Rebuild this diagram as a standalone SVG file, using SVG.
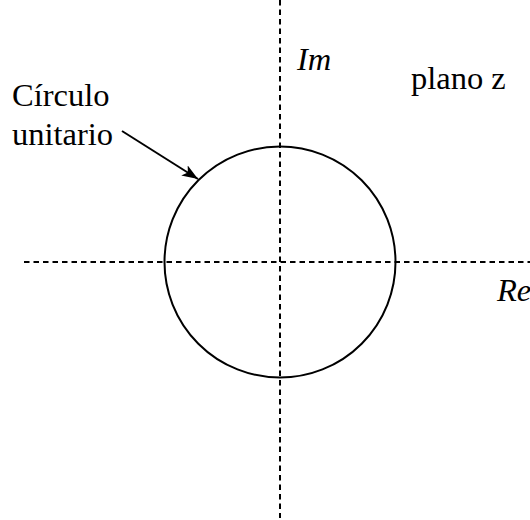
<svg xmlns="http://www.w3.org/2000/svg" width="530" height="520" viewBox="0 0 530 520">
<style>
.axis{stroke:#000;stroke-width:2;stroke-dasharray:5.5,4;fill:none}
text{font-family:'Liberation Serif','Times New Roman',serif;font-size:32.5px;fill:#000}
.i{font-style:italic}
</style>
<defs>
<marker id="ah2" viewBox="0 0 16 12" refX="16" refY="6" markerWidth="16" markerHeight="12" markerUnits="userSpaceOnUse" orient="auto">
<path d="M0,0 L16,6 L0,12 L4,6 Z" fill="#000"/>
</marker>
</defs>
<rect width="530" height="520" fill="#fff"/>
<g id="connectors">
<line class="axis" x1="280" y1="0" x2="280" y2="518"/>
<line class="axis" x1="24" y1="262" x2="530" y2="262"/>
<line x1="122" y1="131" x2="198" y2="179" stroke="#000" stroke-width="2" marker-end="url(#ah2)"/>
</g>
<g id="circle">
<circle cx="280" cy="262" r="115.5" fill="none" stroke="#000" stroke-width="2"/>
</g>
<g id="labels">
<text x="12" y="106">Círculo</text>
<text x="12" y="145">unitario</text>
<text class="i" x="297" y="70">Im</text>
<text x="411" y="89">plano z</text>
<text class="i" x="497" y="301">Re</text>
</g>
</svg>
